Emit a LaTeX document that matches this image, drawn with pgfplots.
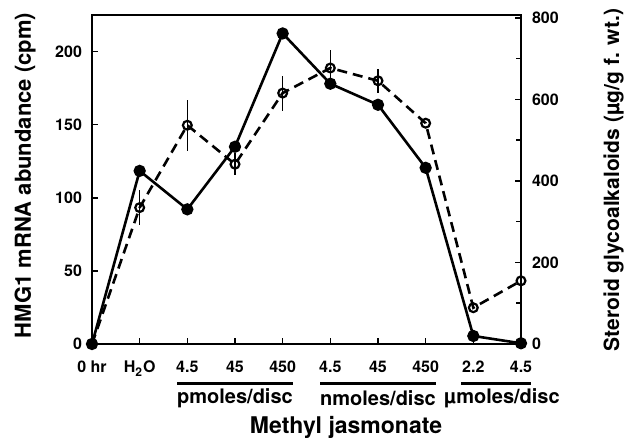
\documentclass[border=0pt]{standalone}
\usepackage{fontspec}
\setmainfont{TeX Gyre Heros}
\usepackage{pgfplots}
\pgfplotsset{compat=1.18}

\pgfplotsset{
  common/.style={
    at={(0,0)}, anchor=south west,
    scale only axis, width=214.5pt, height=164.5pt,
    xmin=0, xmax=9, ymin=0,
    axis line style={line width=1pt},
    tick align=inside,
    major tick length=3pt, minor tick length=2.5pt,
    every tick/.style={black, line width=0.8pt},
    tick label style={font=\fontsize{8}{9}\selectfont\bfseries},
    /pgf/number format/assume math mode=true,
    clip=false,
  },
}

\begin{document}
\begin{tikzpicture}
\useasboundingbox (-46pt,-47.5pt) rectangle (266.5pt,172pt);

% left axis: HMG1 mRNA
\begin{axis}[
  common,
  ymax=225,
  xtick={0,...,9},
  xticklabels={0 hr, H\textsubscript{2}O, 4.5, 45, 450, 4.5, 45, 450, 2.2, 4.5},
  xticklabel style={yshift=-5pt},
  ytick={0,50,...,200},
  yticklabel style={xshift=-1.5pt},
  xtick pos=bottom, ytick pos=left,
]
\addplot[black, line width=1.3pt, mark=*, mark size=2.4pt] coordinates {
  (0,0)(1,118.4)(2,92.1)(3,134.9)(4,212.4)(5,178)(6,163.6)(7,120.5)(8,5.5)(9,0.5)};

% group underlines and labels
\draw[line width=1.5pt] ([yshift=-19.5pt]axis cs:1.79,0) -- ([yshift=-19.5pt]axis cs:4.21,0);
\draw[line width=1.5pt] ([yshift=-19.5pt]axis cs:4.79,0) -- ([yshift=-19.5pt]axis cs:7.21,0);
\draw[line width=1.5pt] ([yshift=-19.5pt]axis cs:7.75,0) -- ([yshift=-19.5pt]axis cs:9.21,0);
\node[font=\fontsize{10}{12}\selectfont\bfseries] at ([yshift=-27pt]axis cs:3,0) {pmoles/disc};
\node[font=\fontsize{10}{12}\selectfont\bfseries] at ([yshift=-27pt]axis cs:6,0) {nmoles/disc};
\node[font=\fontsize{10}{12}\selectfont\bfseries] at ([yshift=-27pt]axis cs:8.6,0) {µmoles/disc};
\node[font=\fontsize{11.5}{13}\selectfont\bfseries] at ([yshift=-41.5pt]axis cs:5.33,0) {Methyl jasmonate};

\node[rotate=90, anchor=base, font=\fontsize{11}{13}\selectfont\bfseries]
  at (-30.5pt,84.25pt) {HMG1 mRNA abundance (cpm)};
\node[rotate=90, anchor=base, font=\fontsize{10.5}{12}\selectfont\bfseries]
  at (263.5pt,82pt) {Steroid glycoalkaloids (µg/g f. wt.)};
\end{axis}

% right axis: steroid glycoalkaloids
\begin{axis}[
  common,
  ymax=807,
  axis x line=none, axis y line*=right,
  ytick={0,200,...,800},
  minor ytick={100,300,500,700},
  yticklabel style={xshift=2pt},
]
\addplot[black, line width=1.3pt, dash pattern=on 5pt off 3pt,
  mark=o, mark size=2.2pt, mark options={solid, fill=white, line width=1.1pt},
  error bars/.cd, y dir=both, y explicit, error mark=none,
  error bar style={line width=0.7pt, solid}]
  table[x=x, y=y, y error=e] {
x y e
0 0 0
1 334.6 43
2 536.6 62
3 441 27
4 615.5 43
5 677 45
6 645.6 29
7 541.6 0
8 89 0
9 155 0
};
\end{axis}
\end{tikzpicture}
\end{document}
